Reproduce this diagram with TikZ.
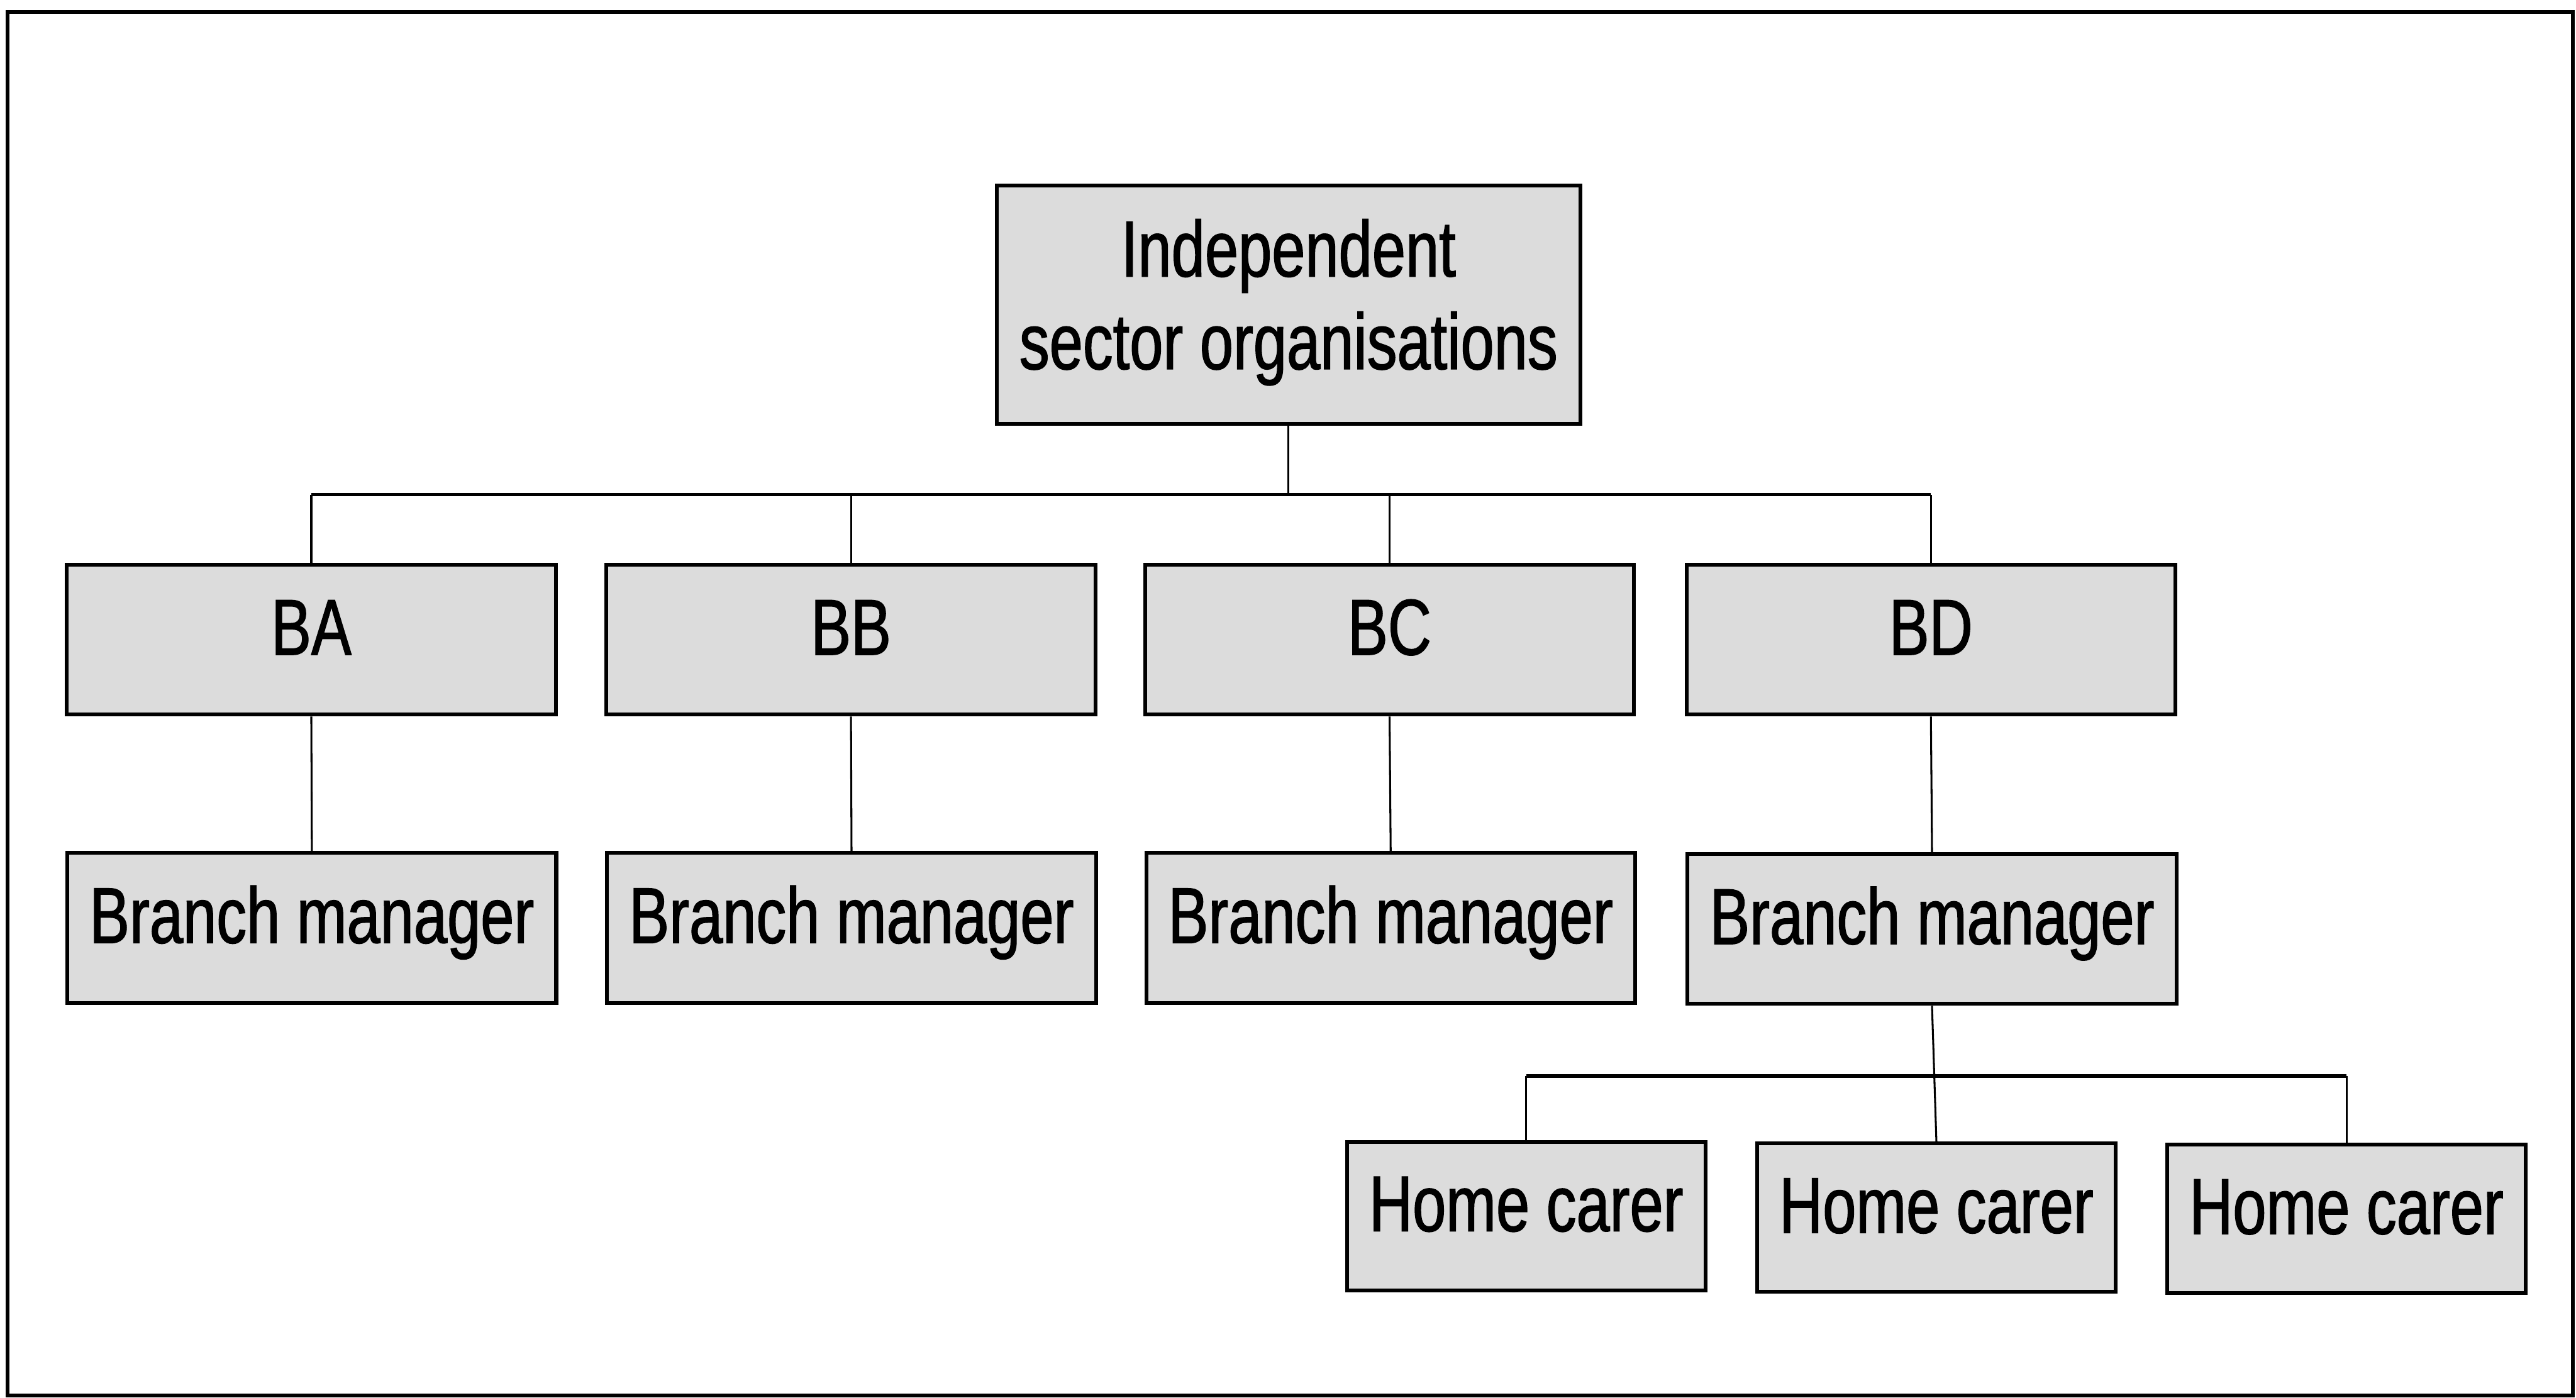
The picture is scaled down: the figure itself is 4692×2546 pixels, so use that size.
\documentclass[tikz,border=0pt]{standalone}
\usepackage{fontspec}
\setmainfont{Liberation Sans}[FakeStretch=0.76,FakeBold=1.2]
\begin{document}
\begin{tikzpicture}[x=0.01cm,y=-0.01cm,
  orgbox/.style={draw=black, fill=boxgray, line width=0.07cm, inner sep=0pt,
    font=\fontsize{41}{48}\selectfont, align=center},
  lvltwo/.style={orgbox, minimum width=8.9cm, minimum height=2.73cm,
    text height=1.1cm, text depth=0.55cm},
  carer/.style={orgbox, minimum width=6.53cm, minimum height=2.7cm,
    text height=1.1cm, text depth=0.55cm},
  link/.style={draw=black, line width=0.035cm},
  bus/.style={draw=black, line width=0.06cm}]
\definecolor{boxgray}{RGB}{220,220,220}
\useasboundingbox (0,0) rectangle (4692,2546);
% outer frame
\draw[line width=0.065cm] (14,22) rectangle (4686,2542);

% top of the hierarchy
\node[orgbox, minimum width=10.62cm, minimum height=4.34cm] (top) at (2347,555)
  {Independent\\sector organisations\\[-1.3cm]\mbox{}};

% branches
\node[lvltwo] (ba) at (567,1165) {BA};
\node[lvltwo] (bb) at (1550,1165) {BB};
\node[lvltwo] (bc) at (2531,1165) {BC};
\node[lvltwo] (bd) at (3517,1165) {BD};

% branch managers
\node[lvltwo] (bma) at (568,1690) {Branch manager};
\node[lvltwo] (bmb) at (1551,1690) {Branch manager};
\node[lvltwo] (bmc) at (2533,1690) {Branch manager};
\node[lvltwo] (bmd) at (3519,1692) {Branch manager};

% home carers under BD
\node[carer] (hc1) at (2780,2215) {Home carer};
\node[carer] (hc2) at (3527,2218) {Home carer};
\node[carer] (hc3) at (4274,2220) {Home carer};

% connector levels
\coordinate (busone) at (0,901);
\coordinate (bustwo) at (0,1960);

% top to branches
\draw[link] (top.south) -- (top.south |- busone);
\draw[bus] (ba.north |- busone) -- (bd.north |- busone);
\draw[link] (ba.north) -- (ba.north |- busone);
\draw[link] (bb.north) -- (bb.north |- busone);
\draw[link] (bc.north) -- (bc.north |- busone);
\draw[link] (bd.north) -- (bd.north |- busone);

% branches to managers
\draw[link] (ba.south) -- (bma.north);
\draw[link] (bb.south) -- (bmb.north);
\draw[link] (bc.south) -- (bmc.north);
\draw[link] (bd.south) -- (bmd.north);

% manager to home carers
\draw[link] (bmd.south) -- (hc2.north);
\draw[bus] (hc1.north |- bustwo) -- (hc3.north |- bustwo);
\draw[link] (hc1.north) -- (hc1.north |- bustwo);
\draw[link] (hc3.north) -- (hc3.north |- bustwo);
\end{tikzpicture}
\end{document}
